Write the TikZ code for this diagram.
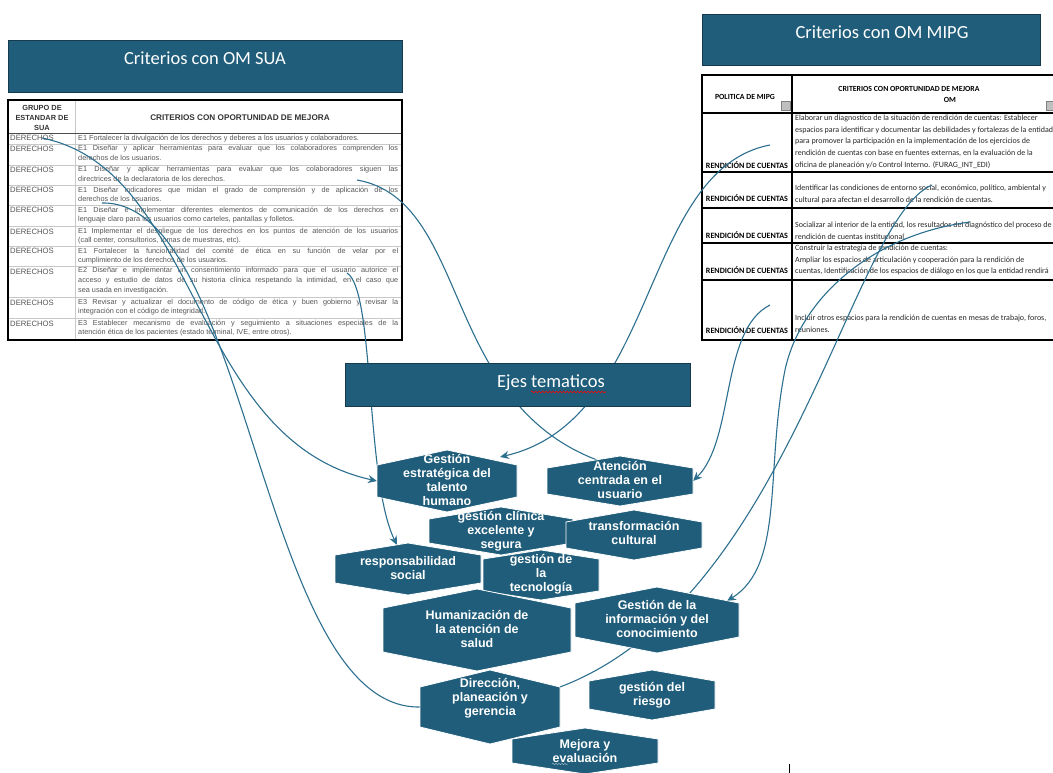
\documentclass[tikz,border=0pt]{standalone}
\usepackage{fontspec}
\setmainfont{Liberation Sans}
\newfontfamily\calibri{Carlito}
\usetikzlibrary{arrows.meta,decorations.pathmorphing}
\pgfdeclarelayer{bg}
\pgfdeclarelayer{mid}
\pgfsetlayers{bg,mid,main}

\definecolor{ejeteal}{HTML}{1F5D7A}
\definecolor{boxedge}{HTML}{173B4E}
\definecolor{linkteal}{HTML}{2C6F8F}
\definecolor{cellgray}{HTML}{C8C8C8}
\definecolor{suagray}{HTML}{555555}

\tikzset{
  titlebox/.style={fill=ejeteal, draw=boxedge, line width=0.8pt},
  titletext/.style={text=white, inner sep=0pt, font=\calibri\fontsize{18.5}{20}\selectfont},
  hexshape/.style={fill=ejeteal, draw=white, line width=0.8pt},
  hexlabel/.style={text=white, align=center, inner sep=0pt, font=\bfseries\fontsize{12.5}{14}\selectfont},
  link/.style={draw=linkteal, line width=1.1pt},
  linkarrow/.style={link, -{Stealth[length=9pt,width=8pt]}},
  suahead/.style={text=black!80, inner sep=0pt, align=center, font=\bfseries\fontsize{7.4}{10}\selectfont},
  suagroup/.style={anchor=base west, inner sep=0pt, text=suagray, font=\fontsize{7.7}{9}\selectfont},
  suatext/.style={anchor=north west, inner sep=0pt, text width=320pt, align=justify, text=suagray, font=\fontsize{7.3}{9.8}\selectfont},
  omhead/.style={inner sep=0pt, align=center, font=\calibri\bfseries\fontsize{7.8}{11}\selectfont},
  omgroup/.style={anchor=base, inner sep=0pt, font=\calibri\bfseries\fontsize{8.1}{9}\selectfont},
  omtext/.style={anchor=north west, inner sep=0pt, align=left, text=black!85, font=\calibri\fontsize{8}{11.8}\selectfont},
}

% hexagon: name, cx, cy, half width, half side, half peak, text y, text
\newcommand{\hexa}[8]{%
  \filldraw[hexshape] (#2-#4,#3-#5) -- (#2,#3-#6) -- (#2+#4,#3-#5)
    -- (#2+#4,#3+#5) -- (#2,#3+#6) -- (#2-#4,#3+#5) -- cycle;
  \coordinate (#1-w) at (#2-#4,#3);
  \coordinate (#1-e) at (#2+#4,#3);
  \coordinate (#1-n) at (#2,#3-#6);
  \coordinate (#1-ne) at (#2+#4,#3-#5);
  \node[hexlabel] (#1) at (#2,#7) {#8};
}

\begin{document}
\begin{tikzpicture}[x=1pt,y=-1pt]
\useasboundingbox (0,0) rectangle (1053,773);

\begin{pgfonlayer}{bg}
% criterios SUA
\filldraw[titlebox] (8,40) rectangle (402,92);
\node[titletext] (suaTitle) at (205,58) {Criterios con OM SUA};
\foreach \y in {144,165,185,205,226,246,266,297,318}
  \draw[cellgray, line width=0.6pt] (8,\y) -- (402,\y);
\draw[cellgray, line width=0.6pt] (75,100) -- (75,340);
\draw[black!70, line width=0.6pt] (8,133) -- (402,133);
\draw[line width=1.6pt] (8,100) rectangle (402,340);
\node[suahead] (suaGrp) at (42,118) {GRUPO DE\\ESTANDAR DE\\SUA};
\node[suahead, font=\bfseries\fontsize{8.2}{10}\selectfont] (suaCrit) at (240,118) {CRITERIOS CON OPORTUNIDAD DE MEJORA};
\foreach \y [count=\i] in {133,144,165,185,205,226,246,266,297,318}
  \node[suagroup] (der\i) at (10,\y+8) {DERECHOS};
\node[suatext] (sua1) at (78,134.5) {\parfillskip=0pt E1 Fortalecer la divulgación de los derechos y deberes a los usuarios y colaboradores.};
\node[suatext] (sua2) at (78,145.5) {E1 Diseñar y aplicar herramientas para evaluar que los colaboradores comprenden los\linebreak derechos de los usuarios.};
\node[suatext] (sua3) at (78,166.5) {E1 Diseñar y aplicar herramientas para evaluar que los colaboradores siguen las\linebreak directrices de la declaratoria de los derechos.};
\node[suatext] (sua4) at (78,186.5) {E1 Diseñar indicadores que midan el grado de comprensión y de aplicación de los\linebreak derechos de los usuarios.};
\node[suatext] (sua5) at (78,206.5) {E1 Diseñar e implementar diferentes elementos de comunicación de los derechos en\linebreak lenguaje claro para los usuarios como carteles, pantallas y folletos.};
\node[suatext] (sua6) at (78,227.5) {E1 Implementar el despliegue de los derechos en los puntos de atención de los usuarios\linebreak (call center, consultorios, tomas de muestras, etc).};
\node[suatext] (sua7) at (78,247.5) {E1 Fortalecer la funcionalidad del comité de ética en su función de velar por el\linebreak cumplimiento de los derechos de los usuarios.};
\node[suatext] (sua8) at (78,267.5) {E2 Diseñar e implementar un consentimiento informado para que el usuario autorice el\linebreak acceso y estudio de datos de su historia clínica respetando la intimidad, en el caso que\linebreak sea usada en investigación.};
\node[suatext] (sua9) at (78,298.5) {E3 Revisar y actualizar el documento de código de ética y buen gobierno y revisar la\linebreak integración con el código de integridad.};
\node[suatext] (sua10) at (78,319.5) {E3 Establecer mecanismo de evaluación y seguimiento a situaciones especiales de la\linebreak atención ética de los pacientes (estado terminal, IVE, entre otros).};

% criterios MIPG
\filldraw[titlebox] (702,14) rectangle (1040,65);
\node[titletext] (omTitle) at (882,32) {Criterios con OM MIPG};
\foreach \y in {113,172,208,243,280}
  \draw[line width=1.2pt] (702,\y) -- (1060,\y);
\draw[line width=1.2pt] (792,75) -- (792,340);
\draw[line width=1.5pt] (702,75) rectangle (1060,340);
\node[omhead] (omPol) at (745,97) {POLITICA DE MIPG};
\node[omhead] (omCrit) at (909,89) {CRITERIOS CON OPORTUNIDAD DE MEJORA};
\node[omhead] (omOm) at (950,100) {OM};
\filldraw[fill=black!25, draw=black!50] (781,101) rectangle (790,110);
\filldraw[fill=black!25, draw=black!50] (1046,101) rectangle (1055,110);
\foreach \y [count=\i] in {169,201,238,273,333}
  \node[omgroup] (rc\i) at (747,\y) {RENDICIÓN DE CUENTAS};
\node[omtext] (om1) at (795,114.5) {Elaborar un diagnostico de la situación de rendición de cuentas: Establecer\\espacios para identificar y documentar las debilidades y fortalezas de la entidad\\para promover la participación en la implementación de los ejercicios de\\rendición de cuentas con base en fuentes externas, en la evaluación de la\\oficina de planeación y/o Control Interno. (FURAG\_INT\_EDI)};
\node[omtext] (om2) at (795,184.5) {Identificar las condiciones de entorno social, económico, político, ambiental y\\cultural para afectan el desarrollo de la rendición de cuentas.};
\node[omtext] (om3) at (795,221.5) {Socializar al interior de la entidad, los resultados del diagnóstico del proceso de\\rendición de cuentas institucional.};
\node[omtext] (om4) at (795,244.5) {Construir la estrategia de rendición de cuentas:\\Ampliar los espacios de articulación y cooperación para la rendición de\\cuentas, Identificación de los espacios de diálogo en los que la entidad rendirá};
\node[omtext] (om5) at (795,314.5) {Incluir otros espacios para la rendición de cuentas en mesas de trabajo, foros,\\reuniones.};
\end{pgfonlayer}

% ejes tematicos
\filldraw[titlebox] (345,363) rectangle (690,406);
\node[titletext] (ejes) at (551,383) {Ejes tematicos};
\draw[red, line width=0.6pt, decorate, decoration={snake, amplitude=0.9pt, segment length=3.5pt}] (531,392) -- (606,392);

\hexa{hStrat}{447}{481}{70}{16}{31}{480}{Gestión\\estratégica del\\talento\\humano}
\hexa{hAten}{620}{481}{73}{13}{25}{480}{Atención\\centrada en el\\usuario}
\hexa{hClin}{501}{531}{72}{12}{24}{531}{gestión clínica\\excelente y\\segura}
\hexa{hCult}{634}{535}{68}{13}{25}{533}{transformación\\cultural}
\hexa{hResp}{408}{569}{73}{14}{26}{568}{responsabilidad\\social}
\hexa{hTecn}{541}{575}{58}{16}{25}{574}{gestión de\\la\\tecnología}
\hexa{hHuma}{477}{630}{94}{22}{41}{629}{Humanización de\\la atención de\\salud}
\hexa{hInfo}{657}{620}{82}{17}{33}{619}{Gestión de la\\información y del\\conocimiento}
\hexa{hDir}{490}{707}{70}{20}{37}{698}{Dirección,\\planeación y\\gerencia}
\hexa{hRies}{652}{695}{63}{14}{25}{695}{gestión del\\riesgo}
\hexa{hMej}{585}{751}{73}{12}{23}{751}{Mejora y\\evaluación}
\draw[white!60!ejeteal, decorate, decoration={snake, amplitude=0.8pt, segment length=3pt}] (552,764) -- (568,764);
\draw[line width=0.5pt] (789,764) -- (789,773);

% links from the tables
\begin{pgfonlayer}{mid}
\coordinate (suaA) at (42,138);
\coordinate (suaB) at (102,203);
\coordinate (suaC) at (347,273);
\coordinate (suaD) at (357,180);
\coordinate (omA) at (770,145);
\coordinate (omB) at (932,185);
\coordinate (omC) at (970,222);
\coordinate (omD) at (770,305);
\draw[linkarrow] (suaA) .. controls (200,170) and (190,440) .. (hStrat-w);
\draw[link] (suaB) .. controls (250,200) and (260,710) .. (hDir-w);
\draw[linkarrow] (suaC) .. controls (375,290) and (365,480) .. ([xshift=-11pt,yshift=-2pt]hResp-n);
\draw[link] (suaD) .. controls (470,200) and (440,400) .. ([xshift=-23pt,yshift=-4pt]hAten-n);
\draw[linkarrow] (omA) .. controls (640,170) and (660,420) .. ([xshift=-17pt,yshift=8pt]hStrat-ne);
\draw[link] (omB) .. controls (850,220) and (790,600) .. (hDir-ne);
\draw[linkarrow] (omC) .. controls (870,235) and (800,300) .. (785,370)
  .. controls (765,470) and (785,565) .. ([xshift=-12pt,yshift=2pt]hInfo-ne);
\draw[linkarrow] (omD) .. controls (720,330) and (735,440) .. (hAten-e);
\end{pgfonlayer}
\end{tikzpicture}
\end{document}
